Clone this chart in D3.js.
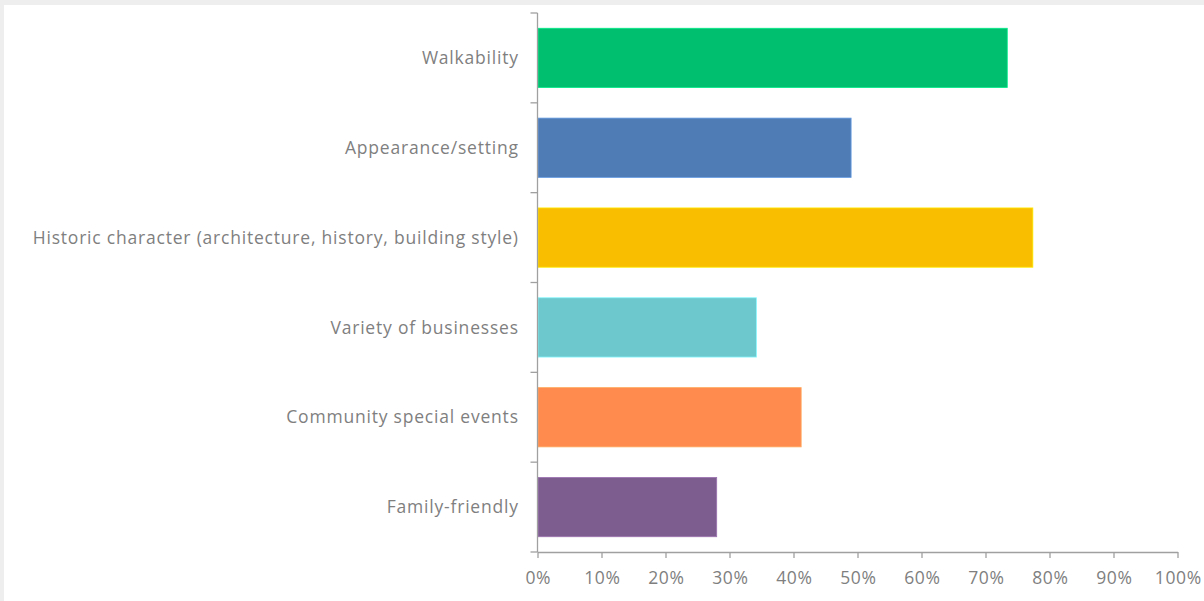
<!DOCTYPE html>
<html><head><meta charset="utf-8">
<script src="https://cdn.jsdelivr.net/npm/d3@7"></script>
<style>
html,body{margin:0;padding:0;background:#eeeeee;}
svg{display:block;}
</style></head>
<body>
<svg id="chart" width="1204" height="601"></svg>
<script>
const categories = ["Walkability","Appearance/setting","Historic character (architecture, history, building style)","Variety of businesses","Community special events","Family-friendly"];
const values = [0.734, 0.490, 0.774, 0.342, 0.412, 0.280];
const colors = ["#00bf6f","#507cb6","#f9be00","#6cc8cd","#ff8b4f","#7d5c8f"];
const xTicks = [0,0.1,0.2,0.3,0.4,0.5,0.6,0.7,0.8,0.9,1.0];

const svg = d3.select("#chart");
svg.append("rect").attr("x",4).attr("y",5).attr("width",1200).attr("height",596).attr("fill","#ffffff");

const x = d3.scaleLinear().domain([0,1]).range([537.5,1177.5]);
const y = d3.scaleBand().domain(categories).range([13,552]).paddingInner(0.34).paddingOuter(0.17);

const font = "'Open Sans', sans-serif";
const fontSize = 17.5;
const textColor = "#7f7f7f";
const axisColor = "#a0a0a0";

// bars
svg.append("g").selectAll("rect").data(categories).join("rect")
  .attr("x", x(0)+0.5)
  .attr("y", d=>y(d))
  .attr("width", (d,i)=>x(values[i])-x(0)-0.5)
  .attr("height", y.bandwidth())
  .attr("fill", (d,i)=>colors[i])
  .attr("stroke", (d,i)=>d3.color(colors[i]).brighter(0.6))
  .attr("stroke-width", 0.8);

// x axis
const xAxis = d3.axisBottom(x).tickValues(xTicks).tickFormat(d3.format(".0%")).tickSizeInner(6).tickSizeOuter(0).tickPadding(14);
const gx = svg.append("g").attr("transform","translate(0,552)").call(xAxis);
gx.select(".domain").attr("stroke",axisColor).attr("stroke-width",1.3);
gx.selectAll(".tick line").attr("stroke",axisColor).attr("stroke-width",1.3);
const tl = gx.selectAll("text").attr("fill",textColor).attr("font-family",font).attr("font-size",fontSize);
const lastTick = tl.filter((d,i)=>i===xTicks.length-1).node();
const tls = Math.max(0,(47 - lastTick.getComputedTextLength())/4);
tl.attr("letter-spacing", tls+"px").attr("dx", (tls/2)+"px");

// y axis line and band-boundary ticks
const yLine = svg.append("g");
yLine.append("line").attr("x1",x(0)).attr("x2",x(0)).attr("y1",13).attr("y2",552).attr("stroke",axisColor).attr("stroke-width",1.3);
const bounds = d3.range(categories.length+1).map(i=>13 + i*(539/categories.length));
yLine.selectAll(".bt").data(bounds).join("line").attr("class","bt")
  .attr("x1",x(0)-7).attr("x2",x(0)).attr("y1",d=>d).attr("y2",d=>d)
  .attr("stroke",axisColor).attr("stroke-width",1.3);

// category labels
const labels = svg.append("g").selectAll("text").data(categories).join("text")
  .attr("x", 518)
  .attr("y", d=>y(d)+y.bandwidth()/2)
  .attr("dy","0.35em")
  .attr("text-anchor","end")
  .attr("fill",textColor)
  .attr("font-family",font)
  .attr("font-size",fontSize)
  .text(d=>d);
const longest = labels.filter((d,i)=>i===2).node();
const w = longest.getComputedTextLength();
const ls = Math.max(0, (486 - w) / (categories[2].length));
labels.attr("letter-spacing", ls + "px").attr("x", 518 + ls);
</script>
</body></html>
